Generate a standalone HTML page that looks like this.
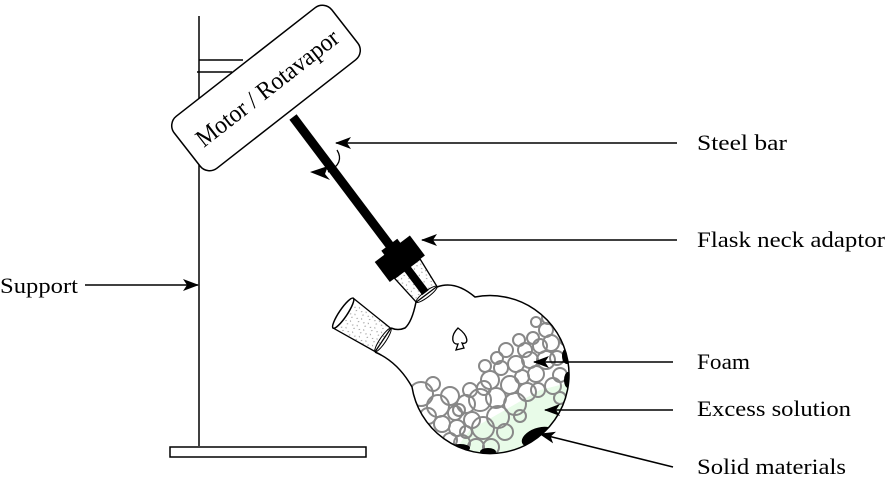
<!DOCTYPE html>
<html><head><meta charset="utf-8"><style>
html,body{margin:0;padding:0;background:#fff}
svg{display:block}
text{font-family:"Liberation Serif",serif;font-size:22px;fill:#000}
</style></head><body>
<svg width="886" height="477" viewBox="0 0 886 477" xmlns="http://www.w3.org/2000/svg">
<defs>
<marker id="ah" markerWidth="16" markerHeight="12" refX="15" refY="6" orient="auto" markerUnits="userSpaceOnUse">
<path d="M0,0 L16,6 L0,12 L4,6 Z" fill="#000"/></marker>
<clipPath id="bulb"><circle cx="490" cy="375" r="79"/></clipPath>
<pattern id="dots" width="8" height="8" patternUnits="userSpaceOnUse">
<rect width="8" height="8" fill="#fff"/><path d="M1,1 l1,1 M5,3 l1,-1 M3,6 l1,1" stroke="#777" stroke-width="0.7"/></pattern>
</defs>
<line x1="199" y1="16" x2="199" y2="446" stroke="#000" stroke-width="1.5"/>
<line x1="199" y1="60" x2="243" y2="60" stroke="#000" stroke-width="1.5"/>
<line x1="197" y1="72" x2="232" y2="72" stroke="#000" stroke-width="1.5"/>
<rect x="170" y="447" width="196" height="10" fill="#fff" stroke="#000" stroke-width="1.5"/>
<g transform="translate(266,88) rotate(-38)">
<rect x="-100" y="-33" width="200" height="66" rx="12" fill="#fff" stroke="#000" stroke-width="1.5"/>
<text x="-86" y="9" style="font-size:25px" textLength="174" lengthAdjust="spacingAndGlyphs">Motor / Rotavapor</text>
</g>
<g transform="translate(293,117) rotate(-37)">
<rect x="-4.5" y="0" width="9" height="212" fill="#000"/>
<path d="M-16,190 L16,190 L13,222 L-13,222 Z" fill="url(#dots)" stroke="#000" stroke-width="1.3"/>
<rect x="-4" y="180" width="8" height="40" fill="#000"/>
<ellipse cx="0" cy="222" rx="13" ry="3" fill="none" stroke="#000" stroke-width="1"/>
<rect x="-22" y="165" width="44" height="25" fill="#000"/>
<rect x="-10" y="160" width="20" height="8" fill="#000"/>
</g>
<path d="M337,150 Q345,163 328,172" fill="none" stroke="#000" stroke-width="1.3"/>
<path d="M310,172 L328,166 L325,174 L330,180 Z" fill="#000"/>
<g clip-path="url(#bulb)">
<circle cx="490" cy="375" r="79" fill="#fff"/>
<path d="M440,470 L470,430 L540,390 L580,380 L580,470 Z" fill="#e8fbe8"/>
<g fill="none" stroke="#888" stroke-width="2">
<circle cx="421" cy="394" r="12"/><circle cx="438" cy="406" r="11"/><circle cx="428" cy="416" r="8"/><circle cx="450" cy="396" r="9"/>
<circle cx="442" cy="424" r="8"/><circle cx="455" cy="413" r="7"/><circle cx="457" cy="428" r="8"/><circle cx="466" cy="404" r="9"/>
<circle cx="450" cy="440" r="7"/><circle cx="472" cy="420" r="8"/><circle cx="462" cy="443" r="8"/><circle cx="480" cy="400" r="11"/>
<circle cx="483" cy="428" r="11"/><circle cx="476" cy="447" r="8"/><circle cx="490" cy="380" r="9"/><circle cx="496" cy="398" r="10"/>
<circle cx="498" cy="417" r="11"/><circle cx="491" cy="447" r="8"/><circle cx="501" cy="368" r="7"/><circle cx="510" cy="385" r="9"/>
<circle cx="515" cy="404" r="11"/><circle cx="516" cy="364" r="8"/><circle cx="522" cy="377" r="7"/><circle cx="527" cy="392" r="9"/>
<circle cx="530" cy="360" r="8"/><circle cx="536" cy="374" r="8"/><circle cx="540" cy="346" r="7"/><circle cx="546" cy="360" r="9"/>
<circle cx="551" cy="343" r="8"/><circle cx="557" cy="358" r="7"/><circle cx="546" cy="330" r="7"/><circle cx="560" cy="375" r="7"/>
<circle cx="553" cy="386" r="8"/><circle cx="538" cy="390" r="7"/><circle cx="505" cy="432" r="8"/><circle cx="525" cy="350" r="7"/>
<circle cx="506" cy="350" r="7"/><circle cx="484" cy="388" r="7"/><circle cx="466" cy="432" r="6"/><circle cx="470" cy="390" r="7"/>
<circle cx="533" cy="338" r="6"/><circle cx="519" cy="340" r="6"/><circle cx="497" cy="358" r="6"/><circle cx="433" cy="384" r="7"/>
<circle cx="445" cy="447" r="6"/><circle cx="560" cy="398" r="6"/><circle cx="459" cy="410" r="6"/><circle cx="485" cy="366" r="6"/>
<circle cx="548" cy="318" r="6"/><circle cx="536" cy="322" r="5"/><circle cx="565" cy="340" r="5"/><circle cx="520" cy="416" r="6"/>
</g>
<ellipse cx="538" cy="437" rx="17" ry="9" transform="rotate(-20 538 437)" fill="#000"/>
<ellipse cx="460" cy="448" rx="10" ry="4" fill="#000"/>
<ellipse cx="488" cy="452" rx="8" ry="4" fill="#000"/>
<ellipse cx="567" cy="356" rx="5" ry="8" fill="#000"/>
<ellipse cx="568" cy="380" rx="4" ry="8" fill="#000"/>
</g>
<path d="M437,287 Q455,280 475,297 A79,79 0 1 1 412,387 Q398,362 375,352" fill="none" stroke="#000" stroke-width="1.5"/>
<path d="M416,302 Q412,322 405,328 Q398,331 391,328" fill="none" stroke="#000" stroke-width="1.5"/>
<g transform="translate(383,340) rotate(-56)">
<path d="M-14,0 L14,0 L18,-48 L-18,-48 Z" fill="url(#dots)" stroke="#000" stroke-width="1.3"/>
<ellipse cx="0" cy="-48" rx="18" ry="4" fill="#fff" stroke="#000" stroke-width="1.5"/>
<ellipse cx="0" cy="0" rx="14" ry="3" fill="none" stroke="#000" stroke-width="1"/>
</g>
<path d="M458,328 C450,336 452,345 458,344 L456,350 L464,348 L462,343 C469,345 469,336 458,328 Z" fill="#fff" stroke="#000" stroke-width="1.3"/>
<g stroke="#000" stroke-width="1.5" fill="none">
<line x1="677" y1="143" x2="336" y2="143" marker-end="url(#ah)"/>
<line x1="677" y1="240" x2="422" y2="240" marker-end="url(#ah)"/>
<line x1="85" y1="285" x2="198" y2="285" marker-end="url(#ah)"/>
<line x1="673" y1="362" x2="534" y2="362" marker-end="url(#ah)"/>
<line x1="673" y1="410" x2="545" y2="410" marker-end="url(#ah)"/>
<line x1="673" y1="467" x2="540" y2="434" marker-end="url(#ah)"/>
</g>
<text x="697" y="150" textLength="90" lengthAdjust="spacingAndGlyphs">Steel bar</text>
<text x="697" y="247" textLength="188" lengthAdjust="spacingAndGlyphs">Flask neck adaptor</text>
<text x="0" y="293" textLength="78" lengthAdjust="spacingAndGlyphs">Support</text>
<text x="697" y="369" textLength="53" lengthAdjust="spacingAndGlyphs">Foam</text>
<text x="697" y="416" textLength="154" lengthAdjust="spacingAndGlyphs">Excess solution</text>
<text x="697" y="474" textLength="149" lengthAdjust="spacingAndGlyphs">Solid materials</text>
</svg>
</body></html>
